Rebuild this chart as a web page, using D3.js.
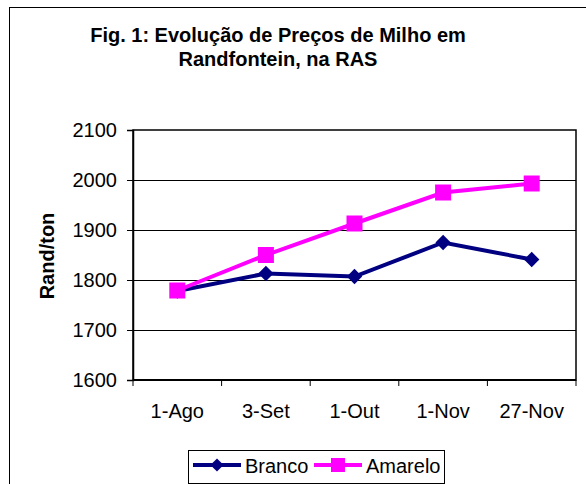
<!DOCTYPE html>
<html>
<head>
    <meta charset="utf-8">
    <style>
        body {
            margin: 0;
            background: white;
        }
        svg {
            font-family: "Liberation Sans", Arial, sans-serif;
        }
    </style>
</head>
<body>
    <svg width="586" height="484"></svg>

<script src="https://d3js.org/d3.v7.min.js"></script>
<script>
    // data
    let dates = ["1-Ago", "3-Set", "1-Out", "1-Nov", "27-Nov"]
    let branco = [1778, 1813, 1807, 1875, 1841]
    let amarelo = [1779, 1850, 1913, 1975, 1993]
    let yTicks = [1600, 1700, 1800, 1900, 2000, 2100]

    let svg = d3.select("svg")

    // outer frame (cut off on right and bottom)
    svg.append("rect")
        .attr("x", 9.5).attr("y", 7.5)
        .attr("width", 600).attr("height", 500)
        .style("fill", "white")
        .style("stroke", "#000")
        .style("stroke-width", 1)

    let pLeft = 133, pRight = 576, pTop = 130, pBottom = 380

    let x = d3.scaleBand()
        .domain(dates)
        .range([pLeft, pRight])

    let y = d3.scaleLinear()
        .domain([1600, 2100])
        .range([pBottom, pTop])

    // title
    let title = svg.append("text")
        .attr("text-anchor", "middle")
        .style("font-weight", "bold")
        .style("font-size", "20px")
    title.append("tspan").attr("x", 278).attr("y", 42).text("Fig. 1: Evolução de Preços de Milho em")
    title.append("tspan").attr("x", 278).attr("y", 66).text("Randfontein, na RAS")

    // grid lines
    svg.selectAll(".grid")
        .data(yTicks.slice(1, -1))
        .join("line")
        .attr("class", "grid")
        .attr("x1", pLeft).attr("x2", pRight)
        .attr("y1", d => y(d) + 0.5).attr("y2", d => y(d) + 0.5)
        .style("stroke", "#000")
        .style("stroke-width", 1)

    // plot area border
    svg.append("rect")
        .attr("x", pLeft).attr("y", pTop)
        .attr("width", pRight - pLeft).attr("height", pBottom - pTop)
        .style("fill", "none")
        .style("stroke", "#000")
        .style("stroke-width", 1.5)

    // y axis
    let yAxis = svg.append("g")
        .attr("transform", `translate(${pLeft},0)`)
        .call(d3.axisLeft(y).tickValues(yTicks).tickSize(6).tickPadding(10).tickFormat(d3.format("d")))
    yAxis.select(".domain").style("stroke", "#000").style("stroke-width", 1.5)
    yAxis.selectAll("text").style("font-size", "20px").style("fill", "#000")
    yAxis.selectAll("line").style("stroke", "#000")

    // x axis: ticks between categories
    let xAxis = svg.append("g")
        .attr("transform", `translate(0,${pBottom})`)
    xAxis.append("line")
        .attr("x1", pLeft).attr("x2", pRight)
        .style("stroke", "#000").style("stroke-width", 2)
    let bounds = dates.map(d => x(d)).concat([pRight])
    xAxis.selectAll(".xt")
        .data(bounds)
        .join("line")
        .attr("class", "xt")
        .attr("x1", d => d).attr("x2", d => d)
        .attr("y1", 0).attr("y2", 6)
        .style("stroke", "#000")
    xAxis.selectAll(".xl")
        .data(dates)
        .join("text")
        .attr("class", "xl")
        .attr("x", d => x(d) + x.bandwidth() / 2)
        .attr("y", 38)
        .attr("text-anchor", "middle")
        .style("font-size", "20px")
        .text(d => d)

    // y axis title
    svg.append("text")
        .attr("transform", "translate(54,256) rotate(-90)")
        .attr("text-anchor", "middle")
        .style("font-weight", "bold")
        .style("font-size", "20px")
        .text("Rand/ton")

    let cx = d => x(d) + x.bandwidth() / 2

    let line = d3.line()
        .x((d, i) => cx(dates[i]))
        .y(d => y(d))

    // Branco
    svg.append("path")
        .datum(branco)
        .attr("d", line)
        .style("fill", "none")
        .style("stroke", "#000080")
        .style("stroke-width", 4)

    svg.selectAll(".branco")
        .data(branco)
        .join("path")
        .attr("class", "branco")
        .attr("transform", (d, i) => `translate(${cx(dates[i])},${y(d)})`)
        .attr("d", d3.symbol().type(d3.symbolDiamond2).size(150))
        .style("fill", "#000080")

    // Amarelo
    svg.append("path")
        .datum(amarelo)
        .attr("d", line)
        .style("fill", "none")
        .style("stroke", "#FF00FF")
        .style("stroke-width", 4)

    svg.selectAll(".amarelo")
        .data(amarelo)
        .join("rect")
        .attr("class", "amarelo")
        .attr("x", (d, i) => cx(dates[i]) - 8)
        .attr("y", d => y(d) - 8)
        .attr("width", 16).attr("height", 16)
        .style("fill", "#FF00FF")

    // legend
    let legend = svg.append("g")
    legend.append("rect")
        .attr("x", 188.5).attr("y", 450.5)
        .attr("width", 256).attr("height", 33)
        .style("fill", "white")
        .style("stroke", "#000")

    let items = [
        { name: "Branco", color: "#000080", x0: 193 },
        { name: "Amarelo", color: "#FF00FF", x0: 314 }
    ]
    items.forEach((it, i) => {
        legend.append("line")
            .attr("x1", it.x0).attr("x2", it.x0 + 48)
            .attr("y1", 465).attr("y2", 465)
            .style("stroke", it.color)
            .style("stroke-width", 4)
        if (i == 0) {
            legend.append("path")
                .attr("transform", `translate(${it.x0 + 24},465)`)
                .attr("d", d3.symbol().type(d3.symbolDiamond2).size(110))
                .style("fill", it.color)
        } else {
            legend.append("rect")
                .attr("x", it.x0 + 17).attr("y", 458)
                .attr("width", 14).attr("height", 14)
                .style("fill", it.color)
        }
        legend.append("text")
            .attr("x", it.x0 + 52).attr("y", 473)
            .style("font-size", "20px")
            .text(it.name)
    })
</script>
</body>
</html>
